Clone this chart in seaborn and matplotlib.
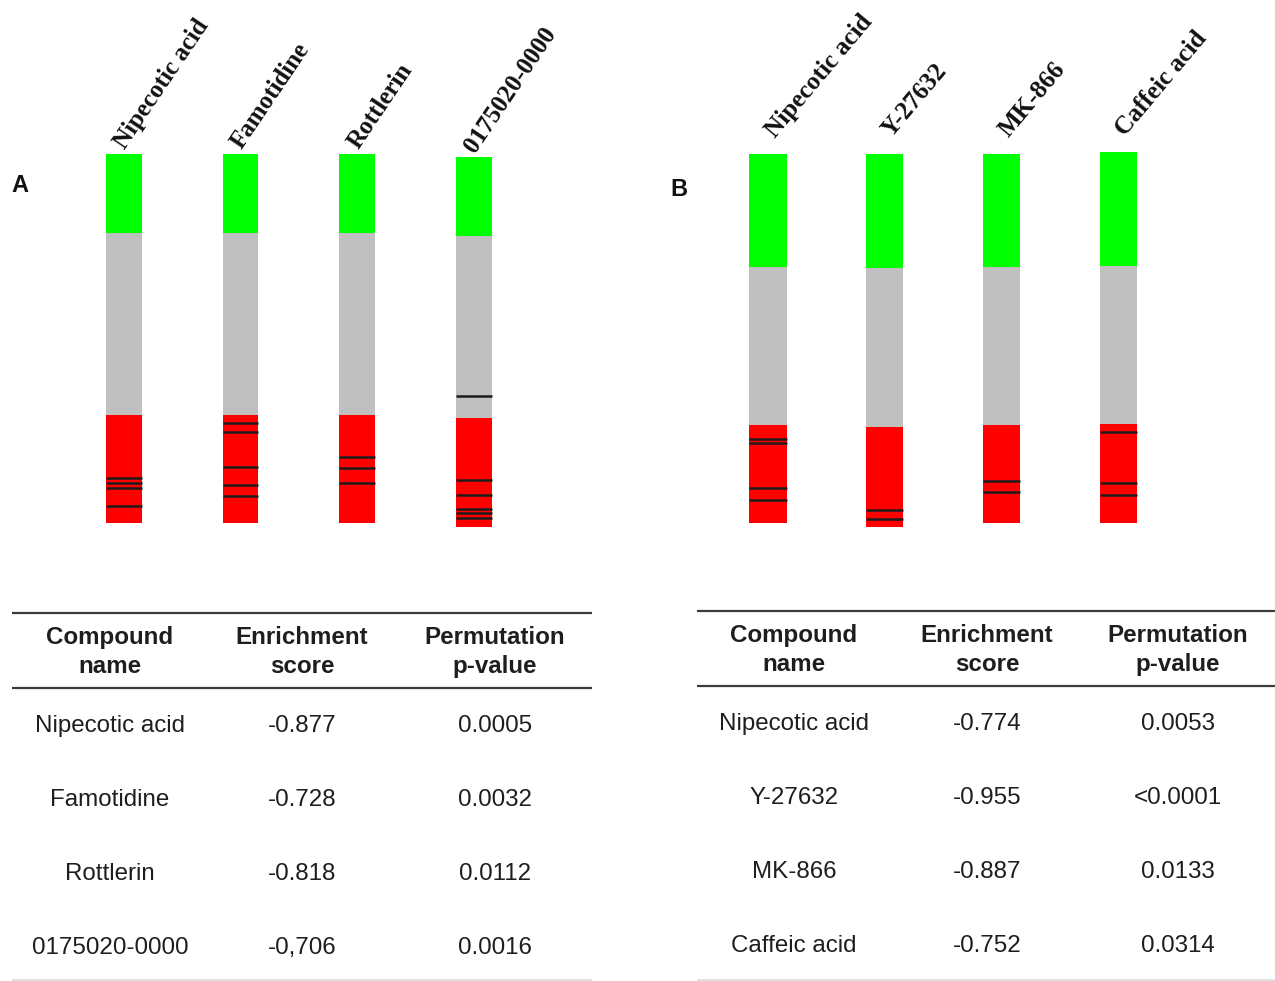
import numpy as np
import pandas as pd
import matplotlib
matplotlib.use("Agg")
import matplotlib.pyplot as plt
import seaborn as sns

sns.set_theme(style="white")
plt.rcParams["font.family"] = ["Liberation Sans", "DejaVu Sans"]

# ---- Panel A: leading-edge strips (positions in % of the ranked list) ----
compounds_a = ["Nipecotic acid", "Famotidine", "Rottlerin", "0175020-0000"]
start_a = [0.0, 0.0, 0.0, 0.9]
green_end_a = [21.3, 21.4, 21.4, 22.2]
gray_end_a = [70.7, 70.7, 70.7, 71.6]
end_a = [100.0, 100.0, 100.0, 101.0]
hits_a = [
    [87.9, 89.2, 90.6, 95.4],
    [72.8, 75.3, 84.7, 89.7, 92.7],
    [82.0, 85.0, 89.2],
    [65.5, 88.3, 92.5, 96.2, 97.4, 98.6],
]
enrichment_a = ["-0.877", "-0.728", "-0.818", "-0,706"]
pvalue_a = ["0.0005", "0.0032", "0.0112", "0.0016"]

# ---- Panel B ----
compounds_b = ["Nipecotic acid", "Y-27632", "MK-866", "Caffeic acid"]
start_b = [0.0, 0.0, 0.0, -0.5]
green_end_b = [30.7, 31.0, 30.7, 30.4]
gray_end_b = [73.4, 74.0, 73.4, 73.3]
end_b = [100.0, 101.0, 100.0, 100.0]
hits_b = [
    [77.3, 78.4, 90.6, 93.8],
    [96.5, 98.9],
    [88.6, 91.6],
    [75.2, 89.2, 92.3],
]
enrichment_b = ["-0.774", "-0.955", "-0.887", "-0.752"]
pvalue_b = ["0.0053", "<0.0001", "0.0133", "0.0314"]

header_lines = [["Compound", "name"], ["Enrichment", "score"], ["Permutation", "p-value"]]

GREEN = "#00ff00"
GRAY = "#c0c0c0"
RED = "#ff0000"
HIT = "#1c1c1c"
TEXT = "#1e1e1e"

W, H = 1275, 981
fig = plt.figure(figsize=(W / 100, H / 100), dpi=100)

# Overlay axes in pixel units for the tables and panel letters
ov = fig.add_axes([0, 0, 1, 1])
ov.set_xlim(0, W)
ov.set_ylim(H, 0)
ov.axis("off")
ov.patch.set_alpha(0)


def strip_axes(left_px):
    top_px, bot_px, width_px = 140, 540, 467.2
    return fig.add_axes([left_px / W, (H - bot_px) / H, width_px / W, (bot_px - top_px) / H])


def draw_strips(ax, names, start, g_end, s_end, end, hits, width, rot, size, lab_dx, lab_dy):
    df = pd.DataFrame({"compound": names, "start": start, "green": g_end,
                       "gray": s_end, "end": end})
    for lo, hi, col in [("start", "green", GREEN), ("green", "gray", GRAY), ("gray", "end", RED)]:
        df["length"] = df[hi] - df[lo]
        sns.barplot(data=df, x="compound", y="length", order=names,
                    bottom=df[lo].to_numpy(), color=col, saturation=1,
                    width=width, linewidth=0, errorbar=None, ax=ax)
    for i, hs in enumerate(hits):
        ax.hlines(hs, i - width / 2, i + width / 2, colors=HIT, linewidth=1.8)
    for i, name in enumerate(names):
        ax.text(i + lab_dx, start[i] + lab_dy, name, rotation=rot, rotation_mode="anchor",
                ha="left", va="baseline", fontsize=size, fontweight="bold",
                family="Liberation Serif", color="#111111", clip_on=False)
    ax.set_xlim(-0.5, len(names) - 0.5)
    ax.set_ylim(104.6, -3.79)
    ax.axis("off")


ax_a = strip_axes(65.3)
draw_strips(ax_a, compounds_a, start_a, green_end_a, gray_end_a, end_a, hits_a,
            0.308, 56, 18, 0.01, -1.0)
ax_b = strip_axes(709.5)
draw_strips(ax_b, compounds_b, start_b, green_end_b, gray_end_b, end_b, hits_b,
            0.32, 50, 18.2, 0.06, -4.2)

ov.text(20, 186, "A", fontsize=17, fontweight="bold", ha="center", va="center", color="#111111")
ov.text(679, 189, "B", fontsize=17, fontweight="bold", ha="center", va="center", color="#111111")


def draw_table(x0, x1, y_top, y_head, col_x, row_y, names, enrich, pvals):
    ov.plot([x0, x1], [y_top, y_top], color="#3c3c3c", lw=1.6, solid_capstyle="butt")
    ov.plot([x0, x1], [y_head, y_head], color="#3c3c3c", lw=1.6, solid_capstyle="butt")
    ov.plot([x0, x1], [980, 980], color="#dadada", lw=1.2, solid_capstyle="butt")
    for cx, (l1, l2) in zip(col_x, header_lines):
        ov.text(cx, y_top + 24.5, l1, ha="center", va="center", fontsize=17.4,
                fontweight="bold", color=TEXT)
        ov.text(cx, y_top + 53.5, l2, ha="center", va="center", fontsize=17.4,
                fontweight="bold", color=TEXT)
    for ry, row in zip(row_y, zip(names, enrich, pvals)):
        for cx, val in zip(col_x, row):
            ov.text(cx, ry + 2, val, ha="center", va="center", fontsize=17.4, color=TEXT)


draw_table(12, 592, 613, 688, [110, 302, 495], [724, 798, 872, 946],
           compounds_a, enrichment_a, pvalue_a)
draw_table(697, 1275, 611, 686, [794, 987, 1178], [722, 796, 870, 944],
           compounds_b, enrichment_b, pvalue_b)

fig.savefig("out.png", dpi=100, facecolor="white")
